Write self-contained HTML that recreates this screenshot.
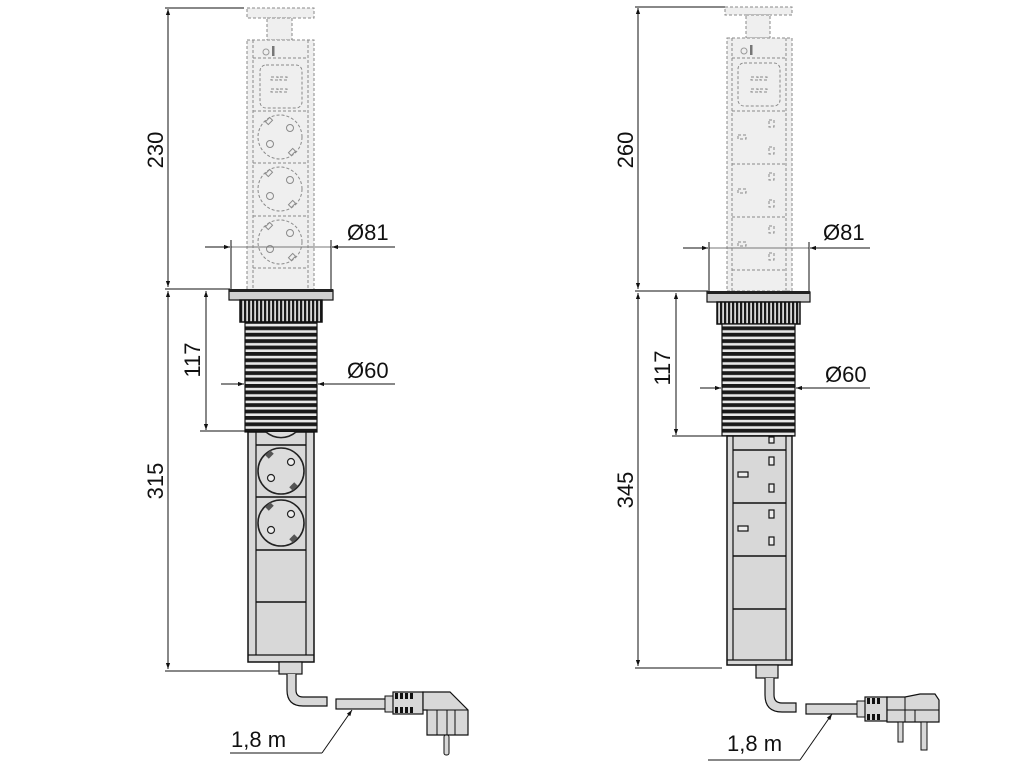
<!DOCTYPE html>
<html><head><meta charset="utf-8"><style>
html,body{margin:0;padding:0;background:#fff;}
svg{display:block;}
text{font-family:"Liberation Sans",sans-serif;fill:#111;}
</style></head><body>
<svg width="1024" height="768" viewBox="0 0 1024 768" xmlns="http://www.w3.org/2000/svg">
<defs>
<pattern id="thr" width="8" height="6.4" patternUnits="userSpaceOnUse">
<rect width="8" height="6.4" fill="#e8e8e8"/>
<rect y="0" width="8" height="3.8" fill="#1a1a1a"/>
</pattern>
<pattern id="rib" width="4" height="10" patternUnits="userSpaceOnUse">
<rect width="4" height="10" fill="#d8d8d8"/>
<rect width="2.2" height="10" fill="#1a1a1a"/>
</pattern>
<marker id="ar" viewBox="0 0 10 10" refX="10" refY="5" markerWidth="10" markerHeight="6" orient="auto-start-reverse" markerUnits="userSpaceOnUse">
<path d="M0,1.5 L10,5 L0,8.5z" fill="#111"/>
</marker>
<g id="dsock">
<circle cx="0" cy="0" r="22" fill="none" stroke="#8a8a8a" stroke-width="1" stroke-dasharray="3,2"/>
<circle cx="10" cy="-9" r="3.5" fill="none" stroke="#8a8a8a"/>
<circle cx="-10" cy="7" r="3.5" fill="none" stroke="#8a8a8a"/>
<rect x="-14" y="-18" width="6" height="4" fill="none" stroke="#8a8a8a" transform="rotate(-45 -11 -16)"/>
<rect x="9" y="13" width="6" height="4" fill="none" stroke="#8a8a8a" transform="rotate(-45 12 15)"/>
</g>
<g id="sock">
<circle cx="0" cy="0" r="23" fill="#dcdcdc" stroke="#222" stroke-width="1.6"/>
<circle cx="10" cy="-9" r="3.5" fill="#eee" stroke="#222" stroke-width="1.2"/>
<circle cx="-10" cy="7" r="3.5" fill="#eee" stroke="#222" stroke-width="1.2"/>
<rect x="-15" y="-19" width="7" height="5" fill="#555" transform="rotate(-45 -11.5 -16.5)"/>
<rect x="9" y="13" width="7" height="5" fill="#555" transform="rotate(-45 12.5 15.5)"/>
</g>
</defs>

<!-- ================= LEFT UNIT ================= -->
<g stroke="#111" stroke-width="1" fill="none">
<line x1="165" y1="8" x2="244" y2="8"/>
<line x1="168" y1="9" x2="168" y2="287" marker-start="url(#ar)" marker-end="url(#ar)"/>
<line x1="165" y1="289" x2="230" y2="289"/>
<line x1="168" y1="291" x2="168" y2="669" marker-start="url(#ar)" marker-end="url(#ar)"/>
<line x1="165" y1="671" x2="280" y2="671"/>
<line x1="206" y1="291" x2="206" y2="430" marker-start="url(#ar)" marker-end="url(#ar)"/>
<line x1="200" y1="431" x2="246" y2="431"/>
</g>
<text x="163" y="150" font-size="22" text-anchor="middle" transform="rotate(-90 163 150)">230</text>
<text x="163" y="481" font-size="22" text-anchor="middle" transform="rotate(-90 163 481)">315</text>
<text x="200" y="360" font-size="22" text-anchor="middle" transform="rotate(-90 200 360)">117</text>

<g fill="#efefef" stroke="#8a8a8a" stroke-width="1" stroke-dasharray="3,2">
<rect x="247" y="8" width="67" height="10"/>
<rect x="267" y="18" width="25" height="22"/>
<rect x="247" y="40" width="67" height="250"/>
<line x1="253" y1="40" x2="253" y2="290"/>
<line x1="308" y1="40" x2="308" y2="290"/>
<line x1="253" y1="58" x2="308" y2="58"/>
<rect x="260" y="65" width="42" height="43" rx="6"/>
<line x1="253" y1="111" x2="308" y2="111"/>
<line x1="253" y1="163" x2="308" y2="163"/>
<line x1="253" y1="216" x2="308" y2="216"/>
<line x1="253" y1="268" x2="308" y2="268"/>
<rect x="271" y="77" width="7" height="3"/><rect x="280" y="77" width="7" height="3"/>
<rect x="271" y="89" width="7" height="3"/><rect x="280" y="89" width="7" height="3"/>
</g>
<circle cx="266" cy="52" r="3" fill="none" stroke="#999"/>
<rect x="272" y="46" width="2.5" height="10" fill="#777"/>
<use href="#dsock" x="280" y="137"/>
<use href="#dsock" x="280" y="189"/>
<use href="#dsock" x="280" y="242"/>

<g stroke="#111" stroke-width="1" fill="none">
<line x1="205" y1="247" x2="230" y2="247" marker-end="url(#ar)"/>
<line x1="395" y1="247" x2="332" y2="247" marker-end="url(#ar)"/>
<line x1="231" y1="247" x2="331" y2="247" stroke="#777"/>
<line x1="231" y1="240" x2="231" y2="289"/>
<line x1="331" y1="240" x2="331" y2="289"/>
</g>
<text x="347" y="240" font-size="22">Ø81</text>

<rect x="229" y="290" width="104" height="10" fill="#d0d0d0" stroke="#111" stroke-width="1.2"/>
<rect x="229" y="289" width="104" height="3" fill="#222"/>
<rect x="240" y="300" width="82" height="22" fill="url(#rib)" stroke="#111" stroke-width="1.5"/>
<rect x="245" y="322" width="72" height="110" fill="url(#thr)" stroke="#111" stroke-width="1.2"/>

<g stroke="#111" stroke-width="1" fill="none">
<line x1="221" y1="384" x2="244" y2="384" marker-end="url(#ar)"/>
<line x1="395" y1="384" x2="318" y2="384" marker-end="url(#ar)"/>
</g>
<text x="347" y="378" font-size="22">Ø60</text>

<rect x="248" y="432" width="66" height="230" fill="#d8d8d8" stroke="#111" stroke-width="1.5"/>
<line x1="256" y1="432" x2="256" y2="655" stroke="#111" stroke-width="1.2"/>
<line x1="306" y1="432" x2="306" y2="655" stroke="#111" stroke-width="1.2"/>
<line x1="248" y1="655" x2="314" y2="655" stroke="#111" stroke-width="1.2"/>
<g stroke="#111" stroke-width="1.5">
<line x1="256" y1="445" x2="306" y2="445"/>
<line x1="256" y1="497" x2="306" y2="497"/>
<line x1="256" y1="550" x2="306" y2="550"/>
<line x1="256" y1="602" x2="306" y2="602"/>
</g>
<path d="M266,432 A23,23 0 0 0 296,432" fill="#dcdcdc" stroke="#222" stroke-width="1.5"/>
<use href="#sock" x="281" y="471"/>
<use href="#sock" x="281" y="523"/>

<rect x="279" y="662" width="23" height="12" fill="#d8d8d8" stroke="#111" stroke-width="1.2"/>
<path d="M287,674 V690 Q287,706 303,706 H327 V697 H303 Q296,697 296,690 V674" fill="#d8d8d8" stroke="#111" stroke-width="1.2"/>
<rect x="336" y="699" width="50" height="10" fill="#d8d8d8" stroke="#111" stroke-width="1.2"/>
<rect x="385" y="696" width="8" height="16" fill="#d8d8d8" stroke="#111"/>
<rect x="393" y="692" width="30" height="22" fill="#d8d8d8" stroke="#111" stroke-width="1.2"/>
<g fill="#111"><rect x="395" y="693" width="3" height="6"/><rect x="400" y="693" width="3" height="6"/><rect x="405" y="693" width="3" height="6"/><rect x="410" y="693" width="3" height="6"/>
<rect x="395" y="707" width="3" height="6"/><rect x="400" y="707" width="3" height="6"/><rect x="405" y="707" width="3" height="6"/><rect x="410" y="707" width="3" height="6"/></g>
<path d="M423,692 H450 L468,710 V735 H427 V710 H423 Z" fill="#d8d8d8" stroke="#111" stroke-width="1.2"/>
<path d="M427,710 H468" stroke="#111" fill="none"/>
<line x1="437" y1="710" x2="437" y2="735" stroke="#111"/><line x1="447" y1="710" x2="447" y2="735" stroke="#111"/><line x1="455" y1="710" x2="455" y2="735" stroke="#111"/>
<rect x="444" y="735" width="5" height="20" rx="2" fill="#d8d8d8" stroke="#111"/>
<text x="231" y="747" font-size="22">1,8 m</text>
<line x1="230" y1="753" x2="322" y2="753" stroke="#111"/>
<line x1="322" y1="753" x2="352" y2="710" stroke="#111" marker-end="url(#ar)"/>

<!-- ================= RIGHT UNIT ================= -->
<g stroke="#111" stroke-width="1" fill="none">
<line x1="635" y1="7" x2="725" y2="7"/>
<line x1="638" y1="8" x2="638" y2="289" marker-start="url(#ar)" marker-end="url(#ar)"/>
<line x1="635" y1="291" x2="708" y2="291"/>
<line x1="638" y1="293" x2="638" y2="666" marker-start="url(#ar)" marker-end="url(#ar)"/>
<line x1="635" y1="668" x2="722" y2="668"/>
<line x1="676" y1="293" x2="676" y2="435" marker-start="url(#ar)" marker-end="url(#ar)"/>
<line x1="672" y1="436" x2="722" y2="436"/>
</g>
<text x="633" y="150" font-size="22" text-anchor="middle" transform="rotate(-90 633 150)">260</text>
<text x="633" y="490" font-size="22" text-anchor="middle" transform="rotate(-90 633 490)">345</text>
<text x="670" y="368" font-size="22" text-anchor="middle" transform="rotate(-90 670 368)">117</text>

<g fill="#efefef" stroke="#8a8a8a" stroke-width="1" stroke-dasharray="3,2">
<rect x="725" y="7" width="67" height="8"/>
<rect x="746" y="15" width="24" height="23"/>
<rect x="727" y="38" width="65" height="253"/>
<line x1="732" y1="38" x2="732" y2="291"/>
<line x1="786" y1="38" x2="786" y2="291"/>
<line x1="732" y1="58" x2="786" y2="58"/>
<rect x="738" y="63" width="42" height="43" rx="6"/>
<line x1="732" y1="111" x2="786" y2="111"/>
<line x1="732" y1="164" x2="786" y2="164"/>
<line x1="732" y1="217" x2="786" y2="217"/>
<line x1="732" y1="270" x2="786" y2="270"/>
<rect x="751" y="77" width="7" height="3"/><rect x="760" y="77" width="7" height="3"/>
<rect x="751" y="89" width="7" height="3"/><rect x="760" y="89" width="7" height="3"/>
<rect x="769" y="120" width="5" height="7"/><rect x="769" y="147" width="5" height="7"/><rect x="738" y="135" width="8" height="4"/>
<rect x="769" y="173" width="5" height="7"/><rect x="769" y="200" width="5" height="7"/><rect x="738" y="189" width="8" height="4"/>
<rect x="769" y="226" width="5" height="7"/><rect x="769" y="253" width="5" height="7"/><rect x="738" y="242" width="8" height="4"/>
</g>
<circle cx="744" cy="51" r="3" fill="none" stroke="#999"/>
<rect x="750" y="45" width="2.5" height="10" fill="#777"/>

<g stroke="#111" stroke-width="1" fill="none">
<line x1="683" y1="248" x2="708" y2="248" marker-end="url(#ar)"/>
<line x1="870" y1="248" x2="810" y2="248" marker-end="url(#ar)"/>
<line x1="709" y1="248" x2="809" y2="248" stroke="#777"/>
<line x1="709" y1="242" x2="709" y2="291"/>
<line x1="809" y1="242" x2="809" y2="291"/>
</g>
<text x="823" y="240" font-size="22">Ø81</text>

<rect x="707" y="292" width="103" height="10" fill="#d0d0d0" stroke="#111" stroke-width="1.2"/>
<rect x="707" y="291" width="103" height="3" fill="#222"/>
<rect x="717" y="302" width="83" height="22" fill="url(#rib)" stroke="#111" stroke-width="1.5"/>
<rect x="722" y="324" width="73" height="112" fill="url(#thr)" stroke="#111" stroke-width="1.2"/>

<g stroke="#111" stroke-width="1" fill="none">
<line x1="700" y1="388" x2="721" y2="388" marker-end="url(#ar)"/>
<line x1="870" y1="388" x2="796" y2="388" marker-end="url(#ar)"/>
</g>
<text x="825" y="382" font-size="22">Ø60</text>

<rect x="727" y="436" width="65" height="229" fill="#d8d8d8" stroke="#111" stroke-width="1.5"/>
<line x1="733" y1="436" x2="733" y2="660" stroke="#111" stroke-width="1.2"/>
<line x1="786" y1="436" x2="786" y2="660" stroke="#111" stroke-width="1.2"/>
<line x1="727" y1="660" x2="792" y2="660" stroke="#111" stroke-width="1.2"/>
<g stroke="#111" stroke-width="1.5">
<line x1="733" y1="450" x2="786" y2="450"/>
<line x1="733" y1="503" x2="786" y2="503"/>
<line x1="733" y1="556" x2="786" y2="556"/>
<line x1="733" y1="609" x2="786" y2="609"/>
</g>
<g fill="#eee" stroke="#111" stroke-width="1.2">
<rect x="769" y="437" width="5" height="6"/>
<rect x="769" y="457" width="5" height="8"/><rect x="769" y="484" width="5" height="8"/><rect x="738" y="472" width="10" height="5"/>
<rect x="769" y="510" width="5" height="8"/><rect x="769" y="537" width="5" height="8"/><rect x="738" y="526" width="10" height="5"/>
</g>

<rect x="756" y="665" width="22" height="13" fill="#d8d8d8" stroke="#111" stroke-width="1.2"/>
<path d="M765,678 V695 Q765,712 782,712 H796 V703 H782 Q774,703 774,695 V678" fill="#d8d8d8" stroke="#111" stroke-width="1.2"/>
<rect x="806" y="704" width="52" height="10" fill="#d8d8d8" stroke="#111" stroke-width="1.2"/>
<rect x="857" y="701" width="8" height="16" fill="#d8d8d8" stroke="#111"/>
<rect x="865" y="697" width="22" height="24" fill="#d8d8d8" stroke="#111" stroke-width="1.2"/>
<g fill="#111"><rect x="867" y="698" width="3" height="6"/><rect x="872" y="698" width="3" height="6"/><rect x="877" y="698" width="3" height="6"/>
<rect x="867" y="714" width="3" height="6"/><rect x="872" y="714" width="3" height="6"/><rect x="877" y="714" width="3" height="6"/></g>
<path d="M887,697 H905 L920,694 H935 L939,700 V722 H887 Z" fill="#d8d8d8" stroke="#111" stroke-width="1.2"/>
<line x1="887" y1="710" x2="939" y2="710" stroke="#111"/>
<line x1="905" y1="697" x2="905" y2="722" stroke="#111"/><line x1="915" y1="710" x2="915" y2="722" stroke="#111"/>
<rect x="898" y="722" width="5" height="20" fill="#d8d8d8" stroke="#111"/>
<rect x="921" y="722" width="6" height="28" fill="#d8d8d8" stroke="#111"/>
<text x="727" y="751" font-size="22">1,8 m</text>
<line x1="708" y1="760" x2="800" y2="760" stroke="#111"/>
<line x1="800" y1="760" x2="832" y2="714" stroke="#111" marker-end="url(#ar)"/>
</svg>
</body></html>
